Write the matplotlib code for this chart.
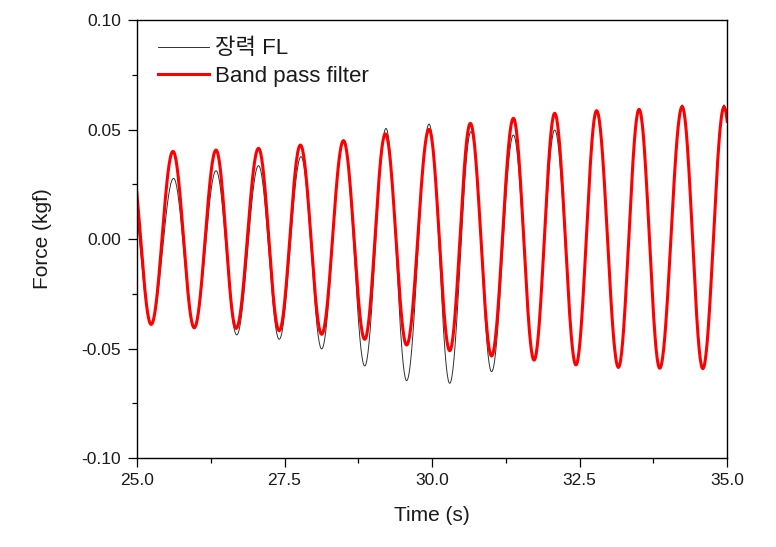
import numpy as np
import matplotlib
matplotlib.use('Agg')
import matplotlib.pyplot as plt
from matplotlib.ticker import MultipleLocator

plt.rcParams['font.family'] = ['Liberation Sans', 'Noto Sans CJK KR', 'DejaVu Sans']

# 극값 (peak / trough) 위치와 값, 그림에서 읽음
# 첫 점과 마지막 점은 축 밖 (xlim 으로 잘림)
bp_t = [24.88, 25.24, 25.61, 25.97, 26.34, 26.68, 27.06, 27.41, 27.77, 28.13,
        28.50, 28.86, 29.21, 29.57, 29.95, 30.30, 30.65, 31.01, 31.38, 31.73,
        32.08, 32.44, 32.79, 33.16, 33.51, 33.86, 34.24, 34.59, 34.95, 35.31]
bp_v = [0.0400, -0.0390, 0.0400, -0.0405, 0.0406, -0.0408, 0.0414, -0.0419, 0.0429, -0.0435,
        0.0449, -0.0458, 0.0480, -0.0484, 0.0501, -0.0510, 0.0528, -0.0534, 0.0551, -0.0553,
        0.0574, -0.0575, 0.0586, -0.0586, 0.0592, -0.0590, 0.0604, -0.0592, 0.0602, -0.0590]

fl_t = [24.89, 25.24, 25.62, 25.97, 26.34, 26.69, 27.06, 27.41, 27.78, 28.13,
        28.50, 28.86, 29.22, 29.57, 29.95, 30.30, 30.66, 31.01, 31.38, 31.73,
        32.08, 32.44, 32.79, 33.16, 33.51, 33.86, 34.24, 34.59, 34.95, 35.31]
fl_v = [0.0250, -0.0390, 0.0277, -0.0410, 0.0312, -0.0438, 0.0335, -0.0458, 0.0376, -0.0502,
        0.0452, -0.0580, 0.0505, -0.0647, 0.0525, -0.0659, 0.0490, -0.0606, 0.0475, -0.0555,
        0.0498, -0.0578, 0.0588, -0.0590, 0.0594, -0.0592, 0.0612, -0.0594, 0.0612, -0.0590]


def half_cos(ts, vs, n=40):
    # 극값 사이를 반 코사인으로 연결
    xx, yy = [], []
    for i in range(len(ts) - 1):
        u = np.linspace(0, 1, n, endpoint=False)
        xx.append(ts[i] + (ts[i + 1] - ts[i]) * u)
        yy.append(vs[i] + (vs[i + 1] - vs[i]) * (1 - np.cos(np.pi * u)) / 2)
    xx.append([ts[-1]])
    yy.append([vs[-1]])
    return np.concatenate(xx), np.concatenate(yy)


fig = plt.figure(figsize=(7.76, 5.47), dpi=100)
ax = fig.add_axes([137 / 776, 1 - 458 / 547, 590 / 776, 438 / 547])

x1, y1 = half_cos(fl_t, fl_v)
x2, y2 = half_cos(bp_t, bp_v)
ax.plot(x1, y1, color='#303030', lw=0.7, label='장력 FL')
ax.plot(x2, y2, color='#ff0000', lw=2.2, label='Band pass filter')

ax.set_xlim(25, 35)
ax.set_ylim(-0.10, 0.10)
ax.xaxis.set_major_locator(MultipleLocator(2.5))
ax.xaxis.set_minor_locator(MultipleLocator(1.25))
ax.yaxis.set_major_locator(MultipleLocator(0.05))
ax.yaxis.set_minor_locator(MultipleLocator(0.025))
ax.xaxis.set_major_formatter(matplotlib.ticker.FormatStrFormatter('%.1f'))
ax.yaxis.set_major_formatter(matplotlib.ticker.FormatStrFormatter('%.2f'))
ax.tick_params(which='major', direction='out', length=6.5, width=0.9,
               labelsize=12.5, labelcolor='#1a1a1a', top=False, right=False)
ax.tick_params(which='minor', direction='out', length=3.5, width=0.9,
               top=False, right=False)
ax.tick_params(axis='y', pad=5)
ax.tick_params(axis='x', pad=4)
for sp in ax.spines.values():
    sp.set_linewidth(1.0)

ax.set_xlabel('Time (s)', fontsize=15, color='#1a1a1a', labelpad=13)
ax.set_ylabel('Force (kgf)', fontsize=15, color='#1a1a1a', labelpad=21)

leg = ax.legend(loc='upper left', bbox_to_anchor=(0.035, 0.958), frameon=False,
                fontsize=16, handlelength=2.3, handletextpad=0.3,
                labelspacing=0.28, borderaxespad=0, borderpad=0)
for t in leg.get_texts():
    t.set_color('#1a1a1a')

fig.savefig('out.png', dpi=100)
